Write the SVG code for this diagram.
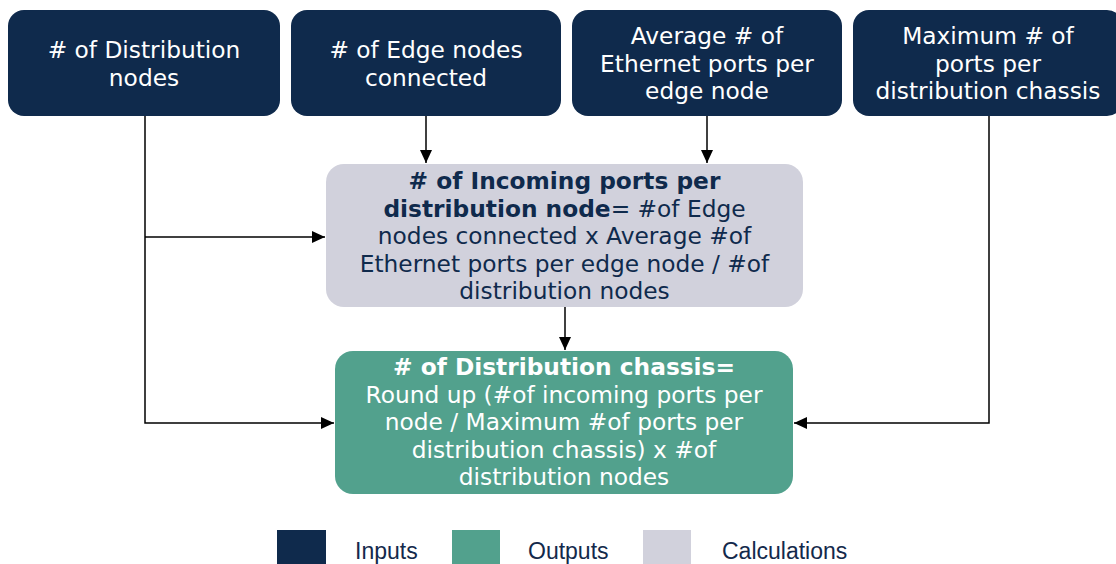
<svg xmlns="http://www.w3.org/2000/svg" width="1116" height="564" viewBox="0 0 1116 564">
<style>
.inp{fill:#0f2a4c}
.calc{fill:#d1d1dc}
.out{fill:#52a18d}
.t{font-family:"DejaVu Sans",Verdana,sans-serif;font-size:23.3px;text-anchor:middle}
.w{fill:#ffffff}
.n{fill:#0f2a4c}
.b{font-weight:bold}
.lg{font-family:"Liberation Sans",Arial,sans-serif;font-size:23px;fill:#13294b}
.c{fill:none;stroke:#000;stroke-width:1.5}
</style>
<defs>
<marker id="ah" markerUnits="userSpaceOnUse" markerWidth="14" markerHeight="14" viewBox="0 0 14 14" refX="13" refY="7" orient="auto">
<path d="M0,1 L13,7 L0,13 Z" fill="#000"/>
</marker>
</defs>
<g id="connectors">
<path class="c" d="M145,116 V423 H334" marker-end="url(#ah)"/>
<path class="c" d="M145,237 H325" marker-end="url(#ah)"/>
<path class="c" d="M426,116 V163" marker-end="url(#ah)"/>
<path class="c" d="M707,116 V163" marker-end="url(#ah)"/>
<path class="c" d="M989,116 V423 H794" marker-end="url(#ah)"/>
<path class="c" d="M565,307 V350" marker-end="url(#ah)"/>
</g>
<g id="n1">
<rect class="inp" x="8" y="10" width="272" height="106" rx="16"/>
<text class="t w" x="144" y="58"><tspan x="144"># of Distribution</tspan><tspan x="144" dy="27.6">nodes</tspan></text>
</g>
<g id="n2">
<rect class="inp" x="291" y="10" width="270" height="106" rx="16"/>
<text class="t w" x="426" y="58"><tspan x="426"># of Edge nodes</tspan><tspan x="426" dy="27.6">connected</tspan></text>
</g>
<g id="n3">
<rect class="inp" x="572" y="10" width="270" height="106" rx="16"/>
<text class="t w" x="707" y="44"><tspan x="707">Average # of</tspan><tspan x="707" dy="27.6">Ethernet ports per</tspan><tspan x="707" dy="27.6">edge node</tspan></text>
</g>
<g id="n4">
<rect class="inp" x="853" y="10" width="270" height="106" rx="16"/>
<text class="t w" x="988" y="44"><tspan x="988">Maximum # of</tspan><tspan x="988" dy="27.6">ports per</tspan><tspan x="988" dy="27.6">distribution chassis</tspan></text>
</g>
<g id="calc">
<rect class="calc" x="326" y="164" width="477" height="143" rx="18"/>
<text class="t n" x="564.5" y="189"><tspan x="564.5" class="b"># of Incoming ports per</tspan><tspan x="564.5" dy="27.6"><tspan class="b">distribution node</tspan>= #of Edge</tspan><tspan x="564.5" dy="27.6">nodes connected x Average #of</tspan><tspan x="564.5" dy="27.6">Ethernet ports per edge node / #of</tspan><tspan x="564.5" dy="27.6">distribution nodes</tspan></text>
</g>
<g id="output">
<rect class="out" x="335" y="351" width="458" height="143" rx="18"/>
<text class="t w" x="564" y="375"><tspan x="564" class="b"># of Distribution chassis=</tspan><tspan x="564" dy="27.6">Round up (#of incoming ports per</tspan><tspan x="564" dy="27.6">node / Maximum #of ports per</tspan><tspan x="564" dy="27.6">distribution chassis) x #of</tspan><tspan x="564" dy="27.6">distribution nodes</tspan></text>
</g>
<g id="legend">
<rect class="inp" x="277" y="530" width="49" height="34"/>
<text class="lg" x="355" y="559">Inputs</text>
<rect class="out" x="452" y="530" width="48" height="34"/>
<text class="lg" x="528" y="559">Outputs</text>
<rect class="calc" x="643" y="530" width="48" height="34"/>
<text class="lg" x="722" y="559">Calculations</text>
</g>
</svg>
